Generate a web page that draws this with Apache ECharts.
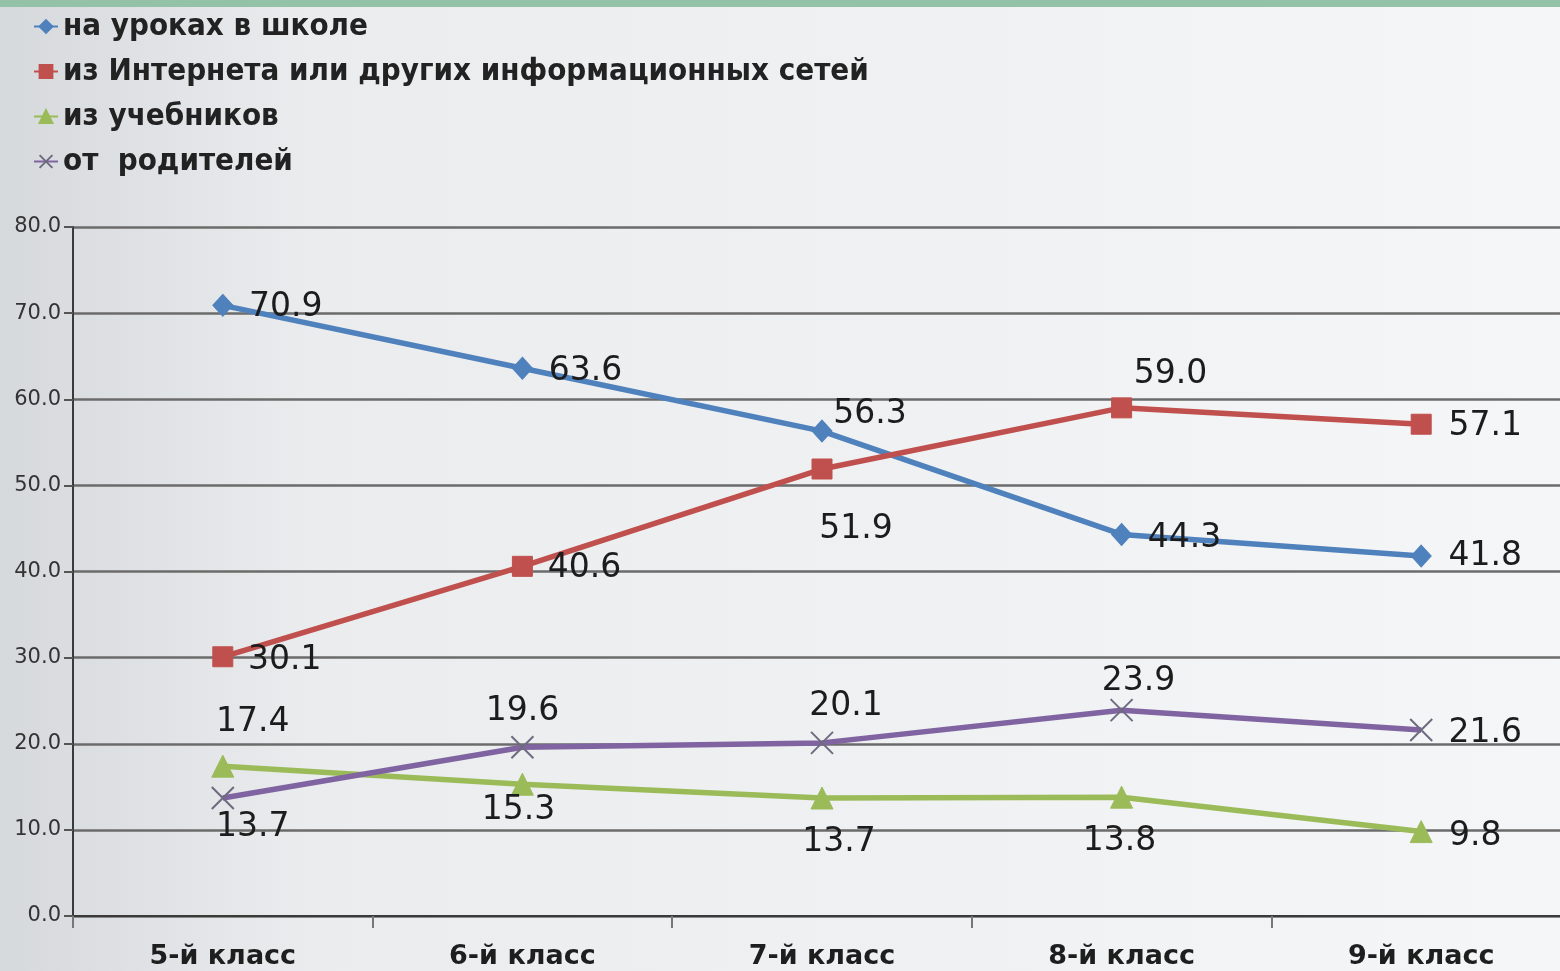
<!DOCTYPE html>
<html>
<head>
<meta charset="utf-8">
<title>Источники информации</title>
<script src="https://cdn.jsdelivr.net/npm/echarts@6/dist/echarts.min.js"></script>
<style>
  html, body { margin: 0; padding: 0; }
  #chart { width: 1560px; height: 971px; }
</style>
</head>
<body>
<div id="chart"></div>
<script>
// данные
const categories = ['5-й класс', '6-й класс', '7-й класс', '8-й класс', '9-й класс']
const seriesNames = [
  'на уроках в школе',
  'из Интернета или других информационных сетей',
  'из учебников',
  'от  родителей'
]
const atSchool = [70.9, 63.6, 56.3, 44.3, 41.8]
const fromInternet = [30.1, 40.6, 51.9, 59.0, 57.1]
const fromTextbooks = [17.4, 15.3, 13.7, 13.8, 9.8]
const fromParents = [13.7, 19.6, 20.1, 23.9, 21.6]
const yTicks = { min: 0, max: 80, interval: 10 }

// where each value label sits relative to its point (text centre - point)
const labelOffsets = [
  [[63, 2], [63, 3], [48, -17], [63, 4], [64, 0]],
  [[62, 4], [62, 2], [34, 60], [49, -33], [64, 2]],
  [[30, -44], [-4, 26], [17, 44], [-2, 44], [54, 5]],
  [[30, 29], [0, -36], [24, -36], [17, -29], [64, 3]]
]
const colors = ['#4f81bd', '#c0504d', '#9bbb59', '#8064a2']
const symbols = ['diamond', 'rect', 'triangle', 'path://M0,0L10,10M10,0L0,10']
const symbolSizes = [[20, 22], 20, 22, 22]

const numFont = 'DejaVu Sans, Verdana, sans-serif'

function buildSeries(values, idx) {
  return {
    name: seriesNames[idx],
    type: 'line',
    symbol: symbols[idx],
    symbolSize: symbolSizes[idx],
    showAllSymbol: true,
    lineStyle: { width: 5.5, color: colors[idx] },
    itemStyle: idx === 3
      ? { color: 'rgba(0,0,0,0)', borderColor: '#6e6a80', borderWidth: 2 }
      : { color: colors[idx], borderColor: colors[idx], borderWidth: 1 },
    label: {
      show: true,
      position: 'inside',
      fontFamily: numFont,
      fontSize: 33,
      color: '#1c1c1c',
      formatter: p => p.value.toFixed(1)
    },
    emphasis: { disabled: true },
    data: values.map((v, i) => ({
      value: v,
      label: { offset: labelOffsets[idx][i] }
    }))
  }
}

const chart = echarts.init(document.getElementById('chart'))
const option = {
  animation: false,
  backgroundColor: {
    type: 'linear', x: 0, y: 0, x2: 1, y2: 0,
    colorStops: [
      { offset: 0, color: '#d6d9dc' },
      { offset: 0.2, color: '#eaecee' },
      { offset: 1, color: '#f5f6f7' }
    ]
  },
  graphic: [
    { type: 'rect', left: 0, top: 0, shape: { width: 1560, height: 7 }, style: { fill: '#93c2a9' }, silent: true }
  ],
  legend: {
    orient: 'vertical',
    left: 28,
    top: 6,
    itemGap: 14,
    itemWidth: 24,
    itemHeight: 16,
    data: seriesNames,
    textStyle: {
      fontFamily: 'DejaVu Sans Condensed, sans-serif',
      fontWeight: 'bold',
      fontSize: 31,
      lineHeight: 31,
      color: '#222'
    }
  },
  grid: { left: 73, width: 1498, top: 227, bottom: 55, outerBoundsMode: 'none' },
  xAxis: {
    type: 'category',
    data: categories,
    boundaryGap: true,
    axisLine: { lineStyle: { color: '#3a3a3a', width: 2 } },
    axisTick: { show: true, length: 12, lineStyle: { color: '#777', width: 2 } },
    axisLabel: {
      fontFamily: numFont,
      fontWeight: 'bold',
      fontSize: 27,
      color: '#1e1e1e',
      margin: 27
    }
  },
  yAxis: {
    type: 'value',
    min: yTicks.min,
    max: yTicks.max,
    interval: yTicks.interval,
    axisLine: { show: true, lineStyle: { color: '#3a3a3a', width: 2 } },
    axisTick: { show: true, length: 9, lineStyle: { color: '#555', width: 2 } },
    splitLine: { lineStyle: { color: '#6b6b6b', width: 2.5 } },
    axisLabel: {
      fontFamily: numFont,
      fontSize: 21,
      color: '#333',
      margin: 12,
      formatter: v => v.toFixed(1)
    }
  },
  series: [
    buildSeries(atSchool, 0),
    buildSeries(fromInternet, 1),
    buildSeries(fromTextbooks, 2),
    buildSeries(fromParents, 3)
  ]
}
chart.setOption(option)
</script>
</body>
</html>
